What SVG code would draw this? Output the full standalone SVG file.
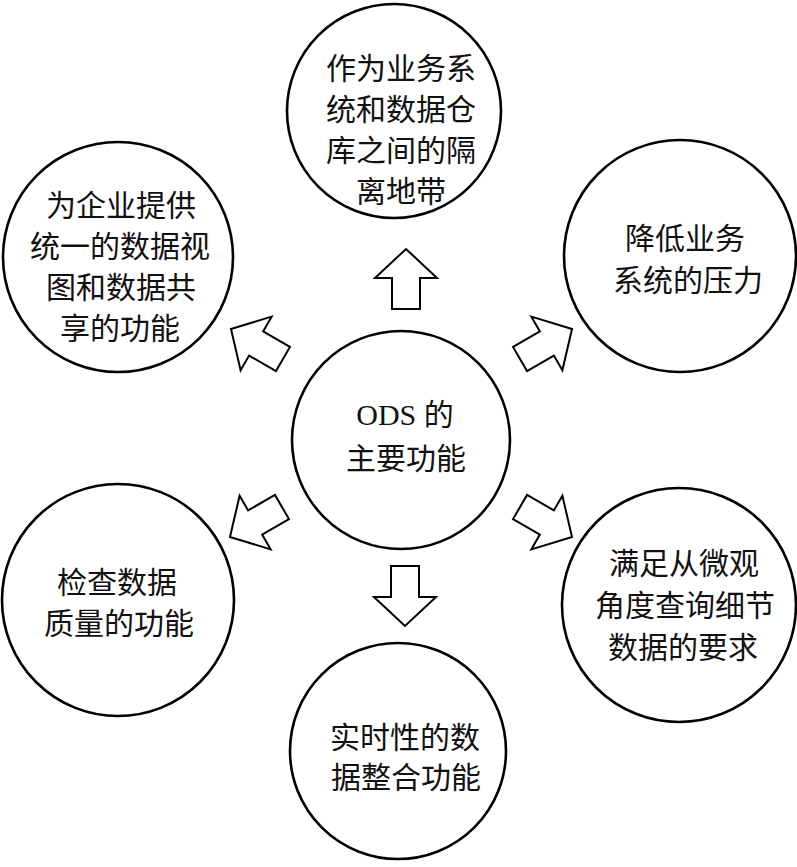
<svg xmlns="http://www.w3.org/2000/svg" width="797" height="867" viewBox="0 0 797 867">
<style>
.c{fill:#fff;stroke:#000;stroke-width:2.6}
.a{fill:#fff;stroke:#000;stroke-width:2;stroke-linejoin:miter}
text{font-family:"Liberation Serif","Noto Sans CJK SC",serif;font-size:30px;fill:#111;text-anchor:middle}
</style>
<defs>
<path id="arr" d="M0,0 L31,29 L14,29 L14,60 L-14,60 L-14,29 L-31,29 Z"/>
</defs>
<rect width="797" height="867" fill="#fff"/>
<g id="connectors">
<use href="#arr" class="a" transform="translate(406,249)"/>
<use href="#arr" class="a" transform="translate(572,329) rotate(60)"/>
<use href="#arr" class="a" transform="translate(572,537) rotate(120)"/>
<use href="#arr" class="a" transform="translate(405,626) rotate(180)"/>
<use href="#arr" class="a" transform="translate(230,537) rotate(240)"/>
<use href="#arr" class="a" transform="translate(231,329) rotate(300)"/>
</g>
<g id="center">
<circle class="c" cx="401" cy="440" r="109"/>
<text x="405" y="425">ODS 的</text>
<text x="406" y="469">主要功能</text>
</g>
<g id="top">
<circle class="c" cx="394" cy="111" r="107"/>
<text x="401" y="79">作为业务系</text>
<text x="401" y="120">统和数据仓</text>
<text x="401" y="161">库之间的隔</text>
<text x="401" y="202">离地带</text>
</g>
<g id="upper-left">
<circle class="c" cx="118" cy="257" r="115"/>
<text x="121" y="216">为企业提供</text>
<text x="120" y="257">统一的数据视</text>
<text x="121" y="298">图和数据共</text>
<text x="120" y="339">享的功能</text>
</g>
<g id="upper-right">
<circle class="c" cx="680" cy="256" r="116"/>
<text x="685" y="249">降低业务</text>
<text x="688" y="291">系统的压力</text>
</g>
<g id="lower-left">
<circle class="c" cx="118" cy="600" r="116"/>
<text x="117" y="593">检查数据</text>
<text x="119" y="634">质量的功能</text>
</g>
<g id="lower-right">
<circle class="c" cx="679" cy="605" r="117"/>
<text x="684" y="574">满足从微观</text>
<text x="685" y="616">角度查询细节</text>
<text x="683" y="658">数据的要求</text>
</g>
<g id="bottom">
<circle class="c" cx="398" cy="751" r="108"/>
<text x="405" y="748">实时性的数</text>
<text x="406" y="788">据整合功能</text>
</g>
</svg>
